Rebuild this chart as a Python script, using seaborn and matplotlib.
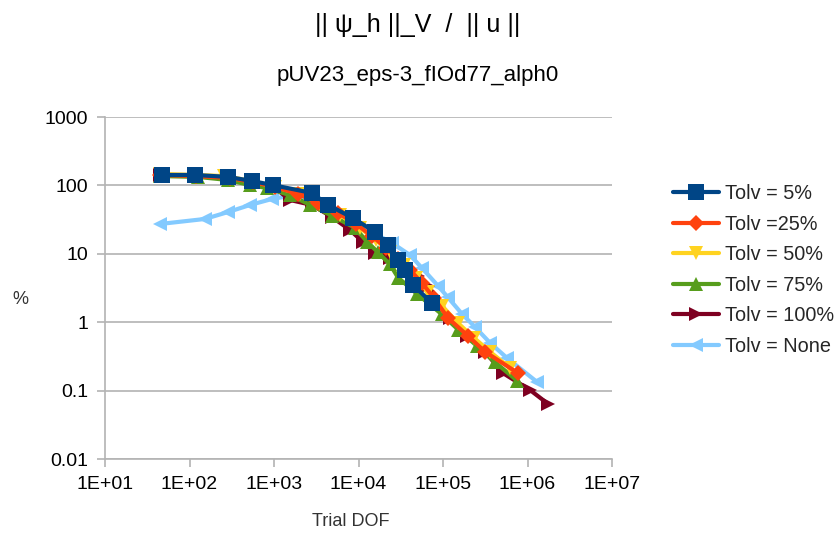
import numpy as np
import pandas as pd
import matplotlib
matplotlib.use("Agg")
import matplotlib.pyplot as plt
import seaborn as sns
from matplotlib.ticker import FixedLocator, FuncFormatter, NullLocator

sns.set_theme(style="white")
plt.rcParams['font.family'] = ['Liberation Sans', 'DejaVu Sans']

title = "|| ψ_h ||_V  /  || u ||"
subtitle = "pUV23_eps-3_fIOd77_alph0"
x_label = "Trial DOF"
y_label = "%"

labels = ["Tolv = 5%", "Tolv =25%", "Tolv = 50%", "Tolv = 75%", "Tolv = 100%", "Tolv = None"]

x_5 = [47, 116, 286, 549, 973, 2818, 4355, 8607, 15680, 22340, 29320, 35480, 44160, 74100]
y_5 = [142, 142, 133, 116, 101, 77.4, 51.7, 33.4, 20.8, 13.4, 8.1, 5.8, 3.5, 1.9]

x_25 = [45, 119, 302, 564, 1028, 1923, 3318, 5718, 9333, 14450, 21150, 29330, 40650, 56400, 78200, 114600, 197700, 314000, 772000]
y_25 = [142, 137, 128, 112, 94.8, 75, 55.3, 39.5, 27.3, 18.2, 12.2, 8.4, 5.8, 3.74, 2.26, 1.15, 0.63, 0.37, 0.18]

x_50 = [45, 119, 256, 549, 1028, 2032, 3501, 6039, 10420, 16110, 23600, 34550, 47900, 66400, 97300, 150600, 232800, 359700, 621000]
y_50 = [147, 142, 137, 116, 94.8, 75, 53.5, 36.9, 23.8, 15.9, 10.6, 6.9, 4.43, 2.77, 1.73, 0.97, 0.59, 0.37, 0.214]

x_75 = [45, 126, 286, 520, 827, 1547, 2667, 4855, 9100, 12620, 17020, 23600, 29330, 49200, 97300, 150600, 252500, 412000, 752000]
y_75 = [137, 133, 120, 101, 91.6, 72, 52, 36, 24, 15, 10.5, 7.0, 4.5, 2.6, 1.3, 0.78, 0.45, 0.26, 0.14]

x_100 = [45, 126, 286, 549, 1028, 1547, 2818, 4855, 7930, 11300, 15680, 23600, 35480, 50600, 66400, 92100, 121000, 192300, 314000, 513000, 1071000, 1750000]
y_100 = [142, 137, 128, 112, 91.6, 61.2, 51.7, 34.5, 22.3, 14.9, 10.3, 8.7, 6.6, 4.73, 3.4, 1.97, 1.15, 0.63, 0.37, 0.18, 0.102, 0.064]

x_none = [45, 152, 286, 520, 946, 1773, 3501, 6923, 14450, 24900, 40650, 56400, 87300, 114600, 167900, 239300, 359700, 571700, 1295000]
y_none = [27.3, 32.3, 40.8, 51.7, 63.3, 72.4, 51.7, 33.4, 20.8, 14.4, 9.6, 6.2, 3.4, 2.3, 1.32, 0.85, 0.50, 0.30, 0.134]

series_x = [x_5, x_25, x_50, x_75, x_100, x_none]
series_y = [y_5, y_25, y_50, y_75, y_100, y_none]
colors = ["#004586", "#ff420e", "#ffd320", "#579d1c", "#7e0021", "#83caff"]
markers = ["s", "D", "v", "^", ">", "<"]
msizes = [11, 8, 10, 10, 10, 10]

y_ticks = [0.01, 0.1, 1, 10, 100, 1000]
x_ticks = [1e1, 1e2, 1e3, 1e4, 1e5, 1e6, 1e7]

fig = plt.figure(figsize=(8.4, 5.36), dpi=100)
ax = fig.add_axes([105/840, 1-459/536, (612-105)/840, (459-117)/536])

n = len(labels)
for i in range(n):
    df = pd.DataFrame({"x": series_x[i], "y": series_y[i]})
    sns.lineplot(data=df, x="x", y="y", ax=ax, sort=False, color=colors[i],
                 marker=markers[i], markersize=msizes[i], markeredgewidth=0,
                 linewidth=3, label=labels[i], zorder=10 + (n - i), estimator=None)

ax.set_xscale("log")
ax.set_yscale("log")
ax.set_xlim(1e1, 1e7)
ax.set_ylim(0.01, 1000)
ax.xaxis.set_major_locator(FixedLocator(x_ticks))
ax.yaxis.set_major_locator(FixedLocator(y_ticks))
ax.xaxis.set_minor_locator(NullLocator())
ax.yaxis.set_minor_locator(NullLocator())
ax.xaxis.set_major_formatter(FuncFormatter(lambda v, p: "1E+%02d" % int(round(np.log10(v)))))
ax.yaxis.set_major_formatter(FuncFormatter(lambda v, p: ("%g" % v)))

ax.grid(axis="y", color="#b3b3b3", linewidth=1.2)
ax.grid(axis="x", visible=False)
ax.set_axisbelow(True)
for s in ["top", "right"]:
    ax.spines[s].set_visible(False)
for s in ["left", "bottom"]:
    ax.spines[s].set_color("#b3b3b3")
    ax.spines[s].set_linewidth(1.2)
ax.tick_params(axis="both", which="major", length=6, width=1.2, color="#b3b3b3",
               labelsize=14, labelcolor="#000000", direction="out", pad=6)
ax.tick_params(axis="x", bottom=True)
ax.tick_params(axis="y", left=True)

ax.set_xlabel("")
ax.set_ylabel("")
fig.text(351/840, 1-522/536, x_label, fontsize=13, color="#333333", ha="center", va="center")
fig.text(20/840, 1-299/536, y_label, fontsize=13, color="#333333", ha="center", va="center")

fig.text(418/840, 1-25/536, title, fontsize=18, ha="center", va="center", color="#000000")
fig.text(418/840, 1-76/536, subtitle, fontsize=16, ha="center", va="center", color="#000000")

handles, lbls = ax.get_legend_handles_labels()
if ax.legend_:
    ax.legend_.remove()
leg = fig.legend(handles, lbls, loc="center left", bbox_to_anchor=(673/840, 1-270/536),
                 frameon=False, fontsize=14.3, handlelength=2.3, handletextpad=0.3,
                 labelspacing=0.58, borderaxespad=0, borderpad=0)

fig.savefig("out.png", dpi=100)
